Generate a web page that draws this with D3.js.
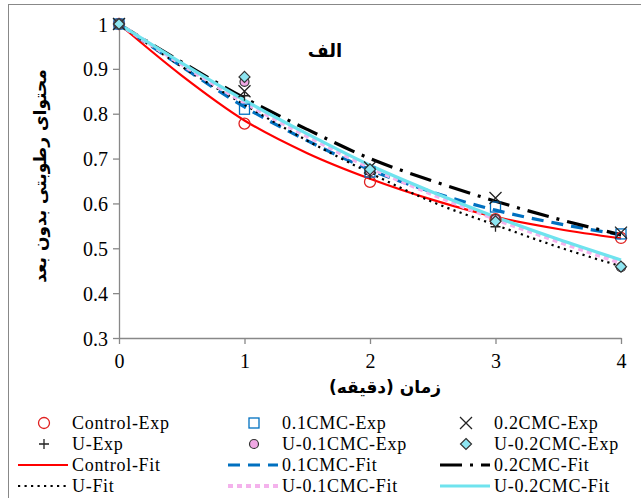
<!DOCTYPE html>
<html><head><meta charset="utf-8">
<script src="https://cdn.jsdelivr.net/npm/d3@7"></script>
<style>body{margin:0;background:#fff}svg{display:block}
.serif{font-family:"Liberation Serif","Times New Roman",Tinos,"DejaVu Serif","Liberation Sans",Arial,sans-serif}
.arab{font-family:"DejaVu Sans",sans-serif;font-weight:bold}</style>
</head><body><svg id="c" width="641" height="498"></svg>
<script>
const xTicks = [0,1,2,3,4];
const yTicks = [0.3,0.4,0.5,0.6,0.7,0.8,0.9,1];
const expX = [0,1,2,3,4];
const controlExp = [1,0.778,0.648,0.565,0.523];
const cmc01Exp = [1,0.81,0.67,0.592,0.532];
const cmc02Exp = [1,0.85,0.68,0.612,0.535];
const uExp = [1,0.84,0.665,0.548,0.46];
const u01Exp = [1,0.871,0.672,0.565,0.458];
const u02Exp = [1,0.882,0.676,0.56,0.459];
const fitX = [0,0.5,1,1.5,2,2.5,3,3.5,4];
const controlFit = [1,0.885,0.785,0.712,0.655,0.608,0.57,0.543,0.522];
const cmc01Fit = [1,0.905,0.815,0.74,0.675,0.625,0.585,0.555,0.53];
const cmc02Fit = [1,0.915,0.835,0.765,0.70,0.65,0.605,0.565,0.53];
const uFit = [1,0.905,0.82,0.74,0.668,0.603,0.552,0.503,0.46];
const u01Fit = [1,0.91,0.825,0.75,0.68,0.62,0.565,0.515,0.467];
const u02Fit = [1,0.913,0.83,0.755,0.685,0.625,0.57,0.52,0.474];
const xTitle = "زمان (دقیقه)";
const yTitle = "محتوای رطوبتی بدون بعد";
const chartTitle = "الف";

const svg = d3.select("#c");
const x = d3.scaleLinear().domain([0,4]).range([119,621]);
const y = d3.scaleLinear().domain([0.3,1]).range([338,24]);

svg.append("rect").attr("x",8.5).attr("y",4.5).attr("width",700).attr("height",600)
  .attr("fill","none").attr("stroke","#888").attr("stroke-width",1);

// axes
const gx = svg.append("g").attr("transform","translate(0,338)")
  .call(d3.axisBottom(x).tickValues(xTicks).tickFormat(d3.format("d")).tickSizeInner(6).tickSizeOuter(0));
const gy = svg.append("g").attr("transform","translate(119,0)")
  .call(d3.axisLeft(y).tickValues(yTicks).tickFormat(d=>d===1?"1":d3.format(".1f")(d)).tickSizeInner(6).tickSizeOuter(0));
[gx,gy].forEach(g=>{
  g.attr("font-family",null).attr("font-size",null);
  g.select(".domain").attr("stroke","#888").attr("stroke-width",1.3);
  g.selectAll(".tick line").attr("stroke","#888").attr("stroke-width",1.3);
  g.selectAll(".tick text").attr("class","serif").style("font-size","20px").attr("fill","#000");
});
gx.selectAll(".tick text").attr("dy","0").attr("y",30);
gy.selectAll(".tick text").attr("x",-11).attr("dy","0.35em");

// fits
const line = d3.line().x((d,i)=>x(fitX[i])).y(d=>y(d)).curve(d3.curveMonotoneX);
const fits = [
  {v:controlFit, c:"#FF0000", w:2.2, da:null},
  {v:cmc01Fit, c:"#0070C0", w:3.2, da:"12,8"},
  {v:cmc02Fit, c:"#000", w:3.2, da:"22,8,3,8"},
  {v:uFit, c:"#000", w:2.2, da:"2.2,4.3"},
  {v:u01Fit, c:"#F4B2EC", w:4, da:"5,4"},
  {v:u02Fit, c:"#6FE3EE", w:3.2, da:null}
];
fits.forEach(f=>{
  svg.append("path").attr("d",line(f.v)).attr("fill","none").attr("stroke",f.c)
    .attr("stroke-width",f.w).attr("stroke-dasharray",f.da);
});

// markers
function marker(g, type, cx, cy){
  if(type==="circle") g.append("circle").attr("cx",cx).attr("cy",cy).attr("r",5.5).attr("fill","none").attr("stroke","#E02020").attr("stroke-width",1.3);
  if(type==="square") g.append("rect").attr("x",cx-5).attr("y",cy-5).attr("width",10).attr("height",10).attr("fill","none").attr("stroke","#0070C0").attr("stroke-width",1.3);
  if(type==="x") g.append("path").attr("d",`M${cx-6},${cy-6}L${cx+6},${cy+6}M${cx-6},${cy+6}L${cx+6},${cy-6}`).attr("stroke","#222").attr("stroke-width",1.3);
  if(type==="plus") g.append("path").attr("d",`M${cx-5},${cy}L${cx+5},${cy}M${cx},${cy-5}L${cx},${cy+5}`).attr("stroke","#222").attr("stroke-width",1.3);
  if(type==="pcircle") g.append("circle").attr("cx",cx).attr("cy",cy).attr("r",4.5).attr("fill","#F0A8E4").attr("stroke","#333").attr("stroke-width",1.2);
  if(type==="diamond") g.append("path").attr("d",`M${cx},${cy-5.5}L${cx+5.5},${cy}L${cx},${cy+5.5}L${cx-5.5},${cy}Z`).attr("fill","#8EE6F2").attr("stroke","#333").attr("stroke-width",1.2);
}
const exps = [
  {v:controlExp,t:"circle"},{v:cmc01Exp,t:"square"},{v:cmc02Exp,t:"x"},
  {v:uExp,t:"plus"},{v:u01Exp,t:"pcircle"},{v:u02Exp,t:"diamond"}
];
const mg = svg.append("g");
exps.forEach(e=>e.v.forEach((d,i)=>marker(mg,e.t,x(expX[i]),y(d))));

// titles
svg.append("text").attr("class","arab").attr("x",325).attr("y",57).attr("text-anchor","middle")
  .style("font-size","18px").text(chartTitle);
svg.append("text").attr("class","arab").attr("x",385).attr("y",393).attr("text-anchor","middle")
  .style("font-size","17px").text(xTitle);
svg.append("text").attr("class","arab").attr("transform","translate(46,176) rotate(-90)").attr("text-anchor","middle")
  .style("font-size","17px").text(yTitle);

// legend
const legend = [
  {n:"Control-Exp",k:"m",t:"circle"},{n:"0.1CMC-Exp",k:"m",t:"square"},{n:"0.2CMC-Exp",k:"m",t:"x"},
  {n:"U-Exp",k:"m",t:"plus"},{n:"U-0.1CMC-Exp",k:"m",t:"pcircle"},{n:"U-0.2CMC-Exp",k:"m",t:"diamond"},
  {n:"Control-Fit",k:"l",f:0},{n:"0.1CMC-Fit",k:"l",f:1},{n:"0.2CMC-Fit",k:"l",f:2},
  {n:"U-Fit",k:"l",f:3},{n:"U-0.1CMC-Fit",k:"l",f:4},{n:"U-0.2CMC-Fit",k:"l",f:5}
];
const colX = [18,228,440];
const rowY = [423,444,465,486];
const lg = svg.append("g");
legend.forEach((d,i)=>{
  const c=i%3, r=Math.floor(i/3);
  const lx=colX[c], ly=rowY[r];
  if(d.k==="m") marker(lg,d.t,lx+26,ly);
  else { const f=fits[d.f];
    lg.append("line").attr("x1",lx).attr("x2",lx+50).attr("y1",ly).attr("y2",ly).attr("stroke",f.c)
      .attr("stroke-width",f.w).attr("stroke-dasharray",f.da);
  }
  lg.append("text").attr("class","serif").attr("x",lx+54).attr("y",ly).attr("dy","0.35em")
    .style("font-size","18px").style("letter-spacing","0.7px").text(d.n);
});
</script></body></html>
